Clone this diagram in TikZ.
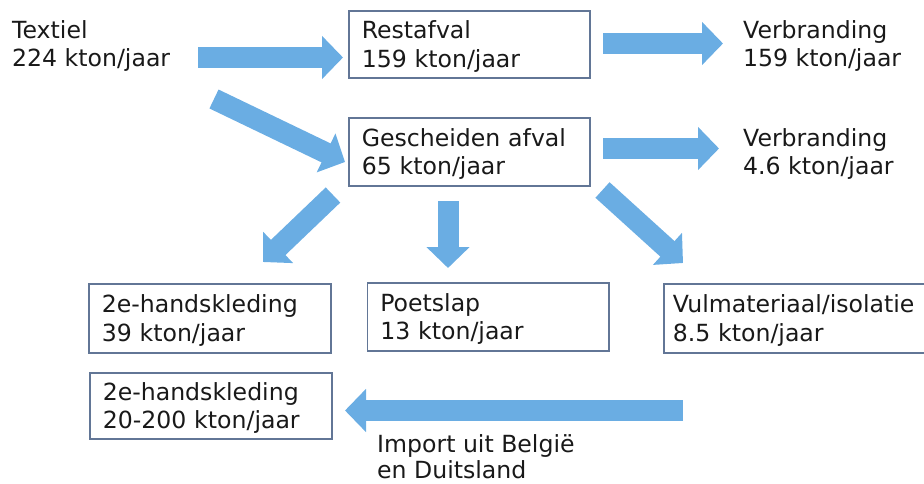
\documentclass[tikz,border=0pt]{standalone}
\usepackage{fontspec}
\setmainfont{DejaVu Sans}
\usetikzlibrary{arrows.meta}
\definecolor{arrowblue}{RGB}{106,173,227}
\definecolor{boxline}{RGB}{98,118,150}
\definecolor{txt}{RGB}{25,25,25}
\newcommand{\fstrut}{\rule{0pt}{23.5pt}}
\newcommand{\lstrut}{\rule[-6pt]{0pt}{6pt}}
\begin{document}
\begin{tikzpicture}[x=1pt,y=-1pt,
  lbl/.style={anchor=north west, inner sep=0pt, align=left,
    font=\fontsize{23.6}{28.5}\selectfont, text=txt},
  box/.style={draw=boxline, line width=1.6pt, anchor=north west,
    inner xsep=13pt, inner ysep=0pt, align=left,
    font=\fontsize{23.6}{28.5}\selectfont, text=txt},
  flow/.style={draw=arrowblue, line width=21pt,
    -{Triangle[length=21pt,width=42pt]}}]
\useasboundingbox (0,0) rectangle (924,484);
% free labels
\node[lbl] (textiel) at (12,14.5) {\fstrut Textiel\\224 kton/jaar\lstrut};
\node[lbl] (verb1) at (743,14.5) {\fstrut Verbranding\\159 kton/jaar\lstrut};
\node[lbl] (verb2) at (743,122.5) {\fstrut Verbranding\\4.6 kton/jaar\lstrut};
\node[lbl, font=\fontsize{23.6}{26.5}\selectfont] (import) at (377,428.5)
  {\fstrut Import uit België\\en Duitsland};
% boxes
\node[box, text width=215pt, minimum height=67pt] (rest) at (348,10)
  {\fstrut Restafval\\159 kton/jaar\lstrut};
\node[box, text width=215pt, minimum height=68pt] (gesch) at (348,117)
  {\fstrut Gescheiden afval\\65 kton/jaar\lstrut};
\node[box, text width=216pt, minimum height=69pt] (tweede) at (88,283)
  {\fstrut 2e-handskleding\\39 kton/jaar\lstrut};
\node[box, text width=215.5pt, minimum height=68pt] (poets) at (366.5,282)
  {\fstrut Poetslap\\13 kton/jaar\lstrut};
\node[box, inner xsep=9pt, text width=262pt, minimum height=69pt] (vul) at (663,283)
  {\fstrut Vulmateriaal/isolatie\\8.5 kton/jaar\lstrut};
\node[box, text width=216pt, minimum height=66pt] (import2) at (89,372)
  {\fstrut 2e-handskleding\\20-200 kton/jaar\lstrut};
% arrow end points
\coordinate (a1s) at (198,57.5);   \coordinate (a1e) at (343,57.5);
\coordinate (a2s) at (603,43.5);   \coordinate (a2e) at (723,43.5);
\coordinate (a3s) at (603,148.5);  \coordinate (a3e) at (719,148.5);
\coordinate (a4s) at (214,99);     \coordinate (a4e) at (345,162);
\coordinate (a5s) at (333,195);    \coordinate (a5e) at (263,262);
\coordinate (a6s) at (448,201);    \coordinate (a6e) at (448,268);
\coordinate (a7s) at (602.5,190);  \coordinate (a7e) at (683,263);
\coordinate (a8s) at (683,410.5);  \coordinate (a8e) at (345,410.5);
% arrows
\draw[flow] (a1s) -- (a1e);
\draw[flow] (a2s) -- (a2e);
\draw[flow] (a3s) -- (a3e);
\draw[flow] (a4s) -- (a4e);
\draw[flow] (a5s) -- (a5e);
\draw[flow] (a6s) -- (a6e);
\draw[flow] (a7s) -- (a7e);
\draw[flow] (a8s) -- (a8e);
\end{tikzpicture}
\end{document}
